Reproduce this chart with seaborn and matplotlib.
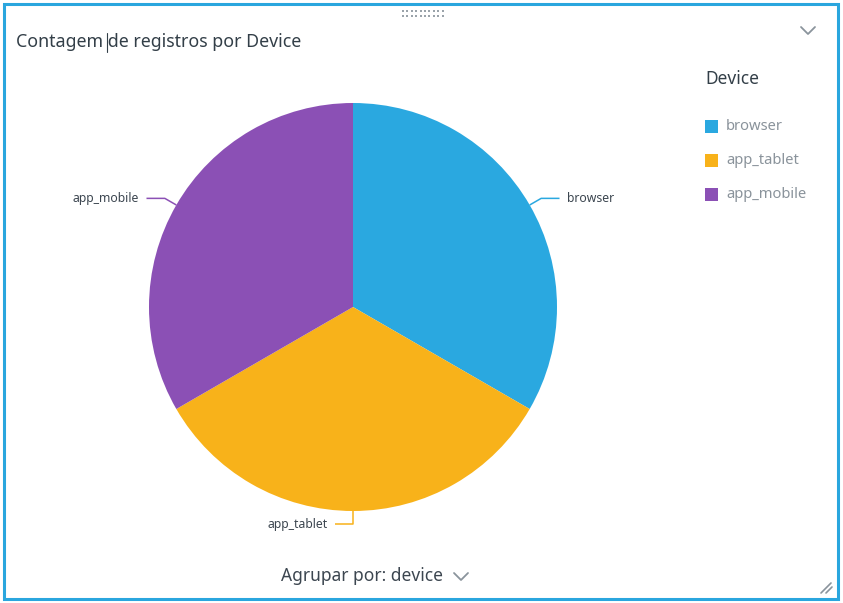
import numpy as np
import matplotlib
matplotlib.use('Agg')
import matplotlib.pyplot as plt
from matplotlib.patches import Rectangle
import seaborn as sns

# dados
categorias = ['browser', 'app_tablet', 'app_mobile']
contagens = [1, 1, 1]
cores = ['#2aa8e0', '#f8b21a', '#8b50b5']

titulo = 'Contagem de registros por Device'
titulo_legenda = 'Device'
rodape = 'Agrupar por: device'

sns.set_style('white')
plt.rcParams['font.family'] = ['Noto Sans', 'DejaVu Sans']

W, H = 843, 603
fig = plt.figure(figsize=(W / 100, H / 100), dpi=100)

# pizza: centro (353, 307) px, raio 204 px
cx, cy, R = 353, 307, 204
ax = fig.add_axes([0, 0, 1, 1])
wedges, _ = ax.pie(contagens, colors=cores, startangle=90, counterclock=False,
                   radius=1, wedgeprops=dict(linewidth=0))
ax.set_xlim(-cx / R, (W - cx) / R)
ax.set_ylim(-(H - cy) / R, cy / R)
ax.set_aspect('auto')
ax.axis('off')

# linhas de chamada e rotulos
for w, nome, cor in zip(wedges, categorias, cores):
    ang = np.deg2rad((w.theta1 + w.theta2) / 2)
    x0, y0 = np.cos(ang), np.sin(ang)
    x1, y1 = 1.065 * x0, 1.065 * y0
    lado = 1 if x0 > 0.01 else -1
    x2 = x1 + lado * 0.09
    ax.plot([x0, x1, x2], [y0, y1, y1], color=cor, lw=1.1, solid_capstyle='butt')
    ax.text(x2 + lado * 0.035, y1, nome, ha='left' if lado > 0 else 'right',
            va='center', fontsize=8.8, color='#3c4650')

# camada de decoracao em pixels
ov = fig.add_axes([0, 0, 1, 1], facecolor='none')
ov.set_xlim(0, W)
ov.set_ylim(H, 0)
ov.axis('off')

ov.add_patch(Rectangle((3.5, 3.5), 834, 595, fill=False, edgecolor='#2aa6de', lw=2.2))

ov.text(16, 42, titulo, fontsize=12.8, color='#333f48', va='center', ha='left')
ov.plot([107, 107], [33, 52], color='#333f48', lw=0.8)

# alca de arrastar
for xx in np.arange(402, 443, 4.4):
    for yy in (11, 16):
        ov.add_patch(Rectangle((xx, yy - 1), 2, 2, color='#9aa3aa', lw=0))

# setas
ov.plot([801, 808, 815], [27, 34, 27], color='#8a949c', lw=1.3)
ov.plot([454, 461, 468], [573, 580, 573], color='#8a949c', lw=1.3)
ov.plot([821, 831], [593, 583], color='#8a949c', lw=1.2)
ov.plot([826, 832], [593, 587], color='#8a949c', lw=1.2)

# legenda
ov.text(705, 79, titulo_legenda, fontsize=12.5, color='#333f48', va='center', ha='left')
for i, (nome, cor) in enumerate(zip(categorias, cores)):
    y = 126 + 34 * i
    ov.add_patch(Rectangle((705, y - 6.5), 13, 13, color=cor, lw=0))
    ov.text(726, y, nome, fontsize=10.6, color='#8a939b', va='center', ha='left')

ov.text(362, 576, rodape, fontsize=12.5, color='#3c4650', va='center', ha='center')

fig.savefig('out.png', dpi=100)
